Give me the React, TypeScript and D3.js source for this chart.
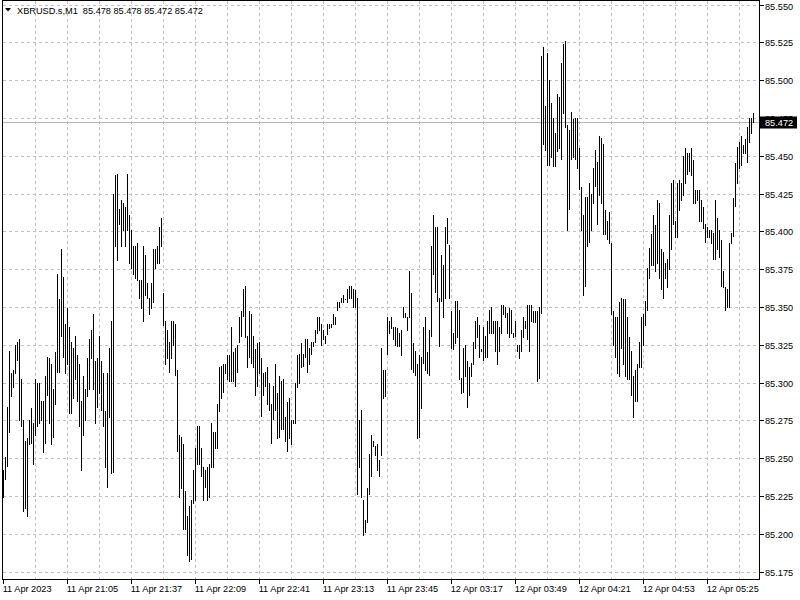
import React from "react";
import * as d3 from "d3";

const symbolTitle = "XBRUSD.s,M1  85.478 85.478 85.472 85.472";
const currentPrice = 85.472;

const highs: number[] = [
85.242,85.251,85.284,85.321,85.306,85.308,85.325,85.327,85.329,85.302,
85.275,85.261,85.263,85.275,85.283,85.273,85.302,85.300,85.300,85.288,
85.288,85.304,85.317,85.316,85.312,85.296,85.320,85.372,85.355,85.388,
85.370,85.339,85.349,85.337,85.327,85.323,85.331,85.318,85.312,85.288,
85.304,85.296,85.316,85.329,85.335,85.345,85.314,85.316,85.331,85.314,
85.306,85.281,85.306,85.323,85.341,85.425,85.437,85.438,85.415,85.421,
85.419,85.416,85.438,85.411,85.401,85.390,85.390,85.392,85.368,85.368,
85.390,85.384,85.366,85.356,85.366,85.388,85.388,85.390,85.403,85.409,
85.359,85.341,85.335,85.327,85.341,85.341,85.339,85.308,85.265,85.264,
85.259,85.228,85.212,85.218,85.222,85.242,85.257,85.271,85.271,85.257,
85.244,85.242,85.244,85.246,85.273,85.267,85.267,85.286,85.310,85.311,
85.312,85.312,85.318,85.318,85.337,85.320,85.323,85.325,85.343,85.347,
85.362,85.364,85.331,85.347,85.345,85.331,85.322,85.326,85.327,85.316,
85.306,85.307,85.310,85.300,85.286,85.298,85.312,85.293,85.304,85.301,
85.302,85.277,85.287,85.290,85.275,85.275,85.300,85.318,85.319,85.326,
85.319,85.329,85.329,85.323,85.327,85.327,85.335,85.343,85.343,85.339,
85.335,85.331,85.339,85.339,85.339,85.345,85.343,85.353,85.353,85.356,
85.358,85.355,85.362,85.364,85.364,85.362,85.361,85.356,85.275,85.282,
85.222,85.209,85.230,85.253,85.265,85.261,85.258,85.259,85.249,85.323,
85.308,85.308,85.343,85.341,85.343,85.337,85.337,85.336,85.333,85.335,
85.350,85.346,85.343,85.374,85.359,85.326,85.321,85.312,85.318,85.317,
85.337,85.343,85.320,85.335,85.390,85.411,85.403,85.403,85.356,85.384,
85.378,85.403,85.409,85.391,85.347,85.333,85.354,85.354,85.348,85.303,
85.323,85.325,85.314,85.310,85.313,85.327,85.341,85.343,85.338,85.322,
85.337,85.331,85.341,85.348,85.350,85.341,85.341,85.341,85.337,85.351,
85.351,85.350,85.346,85.349,85.348,85.333,85.341,85.325,85.325,85.335,
85.343,85.341,85.351,85.351,85.351,85.347,85.347,85.347,85.350,85.516,
85.522,85.483,85.518,85.500,85.485,85.475,85.465,85.491,85.489,85.511,
85.524,85.526,85.470,85.467,85.479,85.474,85.475,85.475,85.455,85.429,
85.411,85.423,85.423,85.432,85.425,85.442,85.454,85.446,85.463,85.462,
85.458,85.414,85.407,85.413,85.392,85.347,85.343,85.343,85.353,85.356,
85.355,85.355,85.343,85.330,85.321,85.304,85.308,85.312,85.327,85.343,
85.345,85.354,85.376,85.389,85.398,85.411,85.404,85.421,85.419,85.388,
85.386,85.379,85.382,85.411,85.432,85.434,85.407,85.432,85.434,85.432,
85.450,85.455,85.452,85.452,85.455,85.447,85.427,85.427,85.427,85.421,
85.416,85.405,85.403,85.401,85.401,85.399,85.421,85.409,85.401,85.394,
85.374,85.363,85.362,85.392,85.399,85.422,85.445,85.456,85.459,85.463,
85.457,85.461,85.469,85.475,85.475,85.478
];

const lows: number[] = [
85.224,85.236,85.245,85.267,85.291,85.297,85.306,85.315,85.275,85.271,
85.215,85.217,85.212,85.259,85.260,85.246,85.265,85.271,85.273,85.275,
85.254,85.260,85.292,85.273,85.259,85.264,85.286,85.307,85.307,85.331,
85.317,85.306,85.312,85.280,85.280,85.290,85.302,85.288,85.271,85.242,
85.265,85.275,85.291,85.296,85.316,85.296,85.273,85.284,85.293,85.282,
85.271,85.244,85.231,85.277,85.240,85.241,85.390,85.381,85.405,85.390,
85.401,85.390,85.401,85.379,85.376,85.372,85.369,85.368,85.356,85.349,
85.341,85.358,85.356,85.345,85.349,85.353,85.376,85.379,85.379,85.390,
85.338,85.312,85.316,85.307,85.316,85.325,85.305,85.255,85.224,85.230,
85.203,85.203,85.186,85.182,85.183,85.220,85.222,85.246,85.246,85.238,
85.222,85.231,85.222,85.224,85.244,85.244,85.257,85.257,85.281,85.290,
85.294,85.306,85.302,85.301,85.301,85.301,85.298,85.307,85.327,85.331,
85.344,85.330,85.310,85.317,85.313,85.310,85.292,85.298,85.306,85.278,
85.292,85.298,85.286,85.282,85.260,85.276,85.282,85.263,85.264,85.269,
85.269,85.261,85.255,85.263,85.259,85.273,85.273,85.297,85.300,85.310,
85.311,85.317,85.307,85.312,85.319,85.324,85.327,85.333,85.335,85.325,
85.329,85.326,85.332,85.336,85.337,85.339,85.339,85.348,85.350,85.353,
85.353,85.355,85.353,85.356,85.356,85.350,85.350,85.226,85.244,85.224,
85.199,85.201,85.208,85.226,85.238,85.258,85.252,85.242,85.238,85.252,
85.290,85.291,85.319,85.333,85.336,85.329,85.325,85.324,85.324,85.318,
85.343,85.343,85.335,85.343,85.309,85.307,85.305,85.263,85.264,85.283,
85.313,85.308,85.306,85.305,85.331,85.372,85.360,85.354,85.324,85.354,
85.343,85.356,85.392,85.356,85.323,85.322,85.326,85.330,85.302,85.293,
85.294,85.304,85.284,85.292,85.304,85.312,85.323,85.330,85.317,85.321,
85.315,85.317,85.317,85.333,85.333,85.333,85.321,85.312,85.321,85.333,
85.345,85.343,85.333,85.330,85.333,85.330,85.331,85.321,85.316,85.321,
85.330,85.336,85.329,85.321,85.341,85.340,85.340,85.301,85.303,85.346,
85.458,85.454,85.444,85.444,85.449,85.443,85.443,85.453,85.455,85.448,
85.478,85.469,85.401,85.415,85.448,85.449,85.448,85.442,85.428,85.401,
85.358,85.364,85.390,85.393,85.401,85.419,85.430,85.405,85.424,85.419,
85.398,85.398,85.395,85.392,85.345,85.325,85.317,85.306,85.304,85.323,
85.312,85.304,85.302,85.302,85.292,85.277,85.288,85.288,85.310,85.310,
85.325,85.338,85.348,85.369,85.378,85.378,85.374,85.379,85.369,85.362,
85.356,85.369,85.363,85.375,85.388,85.405,85.396,85.396,85.414,85.421,
85.424,85.432,85.438,85.440,85.437,85.419,85.419,85.421,85.407,85.407,
85.402,85.393,85.396,85.396,85.392,85.382,85.382,85.388,85.383,85.364,
85.363,85.348,85.350,85.350,85.392,85.397,85.417,85.432,85.442,85.444,
85.452,85.452,85.446,85.459,85.465,85.472
];

const priceTicks: number[] = [85.175, 85.2, 85.225, 85.25, 85.275, 85.3, 85.325, 85.35, 85.375, 85.4, 85.425, 85.45, 85.475, 85.5, 85.525, 85.55];

const timeLabels: string[] = [
  "11 Apr 2023", "11 Apr 21:05", "11 Apr 21:37", "11 Apr 22:09", "11 Apr 22:41", "11 Apr 23:13",
  "11 Apr 23:45", "12 Apr 03:17", "12 Apr 03:49", "12 Apr 04:21", "12 Apr 04:53", "12 Apr 05:25",
];
const barsPerLabel = 32;
const barsPerGrid = 16;

const W = 800;
const H = 600;
const frameLeft = 2.5;
const frameRight = 759.5;
const frameTop = 0.5;
const frameBottom = 579.5;
const FONT = "'Liberation Sans', Arial, sans-serif";
const FS = 9.2;

export default function App() {
  const n = highs.length;
  const x = d3.scaleLinear().domain([0, n - 1]).range([3.5, 3.5 + 2 * (n - 1)]);
  const y = d3.scaleLinear().domain([85.175, 85.55]).range([571.5, 4.5]);

  const gridIdx = d3.range(barsPerGrid, Math.floor((frameRight - 3.5) / 2), barsPerGrid);
  const labelIdx = timeLabels.map((_, k) => k * barsPerLabel);
  const yCur = Math.round(y(currentPrice)) + 0.5;

  return (
    <svg width={W} height={H} style={{ position: "absolute", left: 0, top: 0, background: "#fff" }} fontFamily={FONT}>
      <rect x={0} y={0} width={W} height={H} fill="#fff" />
      {/* grid */}
      <g stroke="#c0c0c0" strokeWidth={1} strokeDasharray="3,3" shapeRendering="crispEdges">
        {priceTicks.map((p) => (
          <line key={"h" + p} x1={frameLeft} x2={frameRight} y1={Math.round(y(p)) + 0.5} y2={Math.round(y(p)) + 0.5} />
        ))}
        {gridIdx.map((i) => (
          <line key={"v" + i} x1={x(i)} x2={x(i)} y1={frameTop} y2={frameBottom} />
        ))}
      </g>
      {/* current price line */}
      <line x1={frameLeft} x2={frameRight} y1={yCur} y2={yCur} stroke="#b4b4b4" strokeWidth={1} shapeRendering="crispEdges" />
      {/* bars */}
      <g fill="#000" shapeRendering="crispEdges">
        {highs.map((h, i) => {
          const yh = Math.round(y(h));
          const yl = Math.round(y(lows[i]));
          return <rect key={i} x={x(i) - 0.5} y={yh} width={1} height={Math.max(1, yl - yh + 1)} />;
        })}
      </g>
      {/* frame */}
      <rect x={frameLeft} y={frameTop} width={frameRight - frameLeft} height={frameBottom - frameTop} fill="none" stroke="#000" strokeWidth={1} shapeRendering="crispEdges" />
      {/* right axis */}
      <g fontSize={FS} fill="#000">
        {priceTicks.map((p) => {
          const yy = Math.round(y(p)) + 0.5;
          const ty = Math.max(yy, 6.5);
          return (
            <g key={"t" + p}>
              <line x1={frameRight} x2={frameRight + 4} y1={yy} y2={yy} stroke="#000" shapeRendering="crispEdges" />
              <text x={765} y={ty + 3.3}>{p.toFixed(3)}</text>
            </g>
          );
        })}
      </g>
      {/* current price label */}
      <rect x={760} y={yCur - 6} width={37} height={12} fill="#000" />
      <text x={765} y={yCur + 3.3} fontSize={FS} fill="#fff">{currentPrice.toFixed(3)}</text>
      {/* bottom axis */}
      <g fontSize={FS} fill="#000">
        {labelIdx.map((i, k) => (
          <g key={"x" + i}>
            <line x1={x(i)} x2={x(i)} y1={frameBottom} y2={frameBottom + 4} stroke="#000" shapeRendering="crispEdges" />
            <text x={x(i) - 0.8} y={592}>{timeLabels[k]}</text>
          </g>
        ))}
      </g>
      {/* title */}
      <path d="M5,8 L11,8 L8,11.5 Z" fill="#000" />
      <text x={17} y={13.5} fontSize={FS} fill="#000" style={{ whiteSpace: "pre" }}>{symbolTitle}</text>
    </svg>
  );
}
